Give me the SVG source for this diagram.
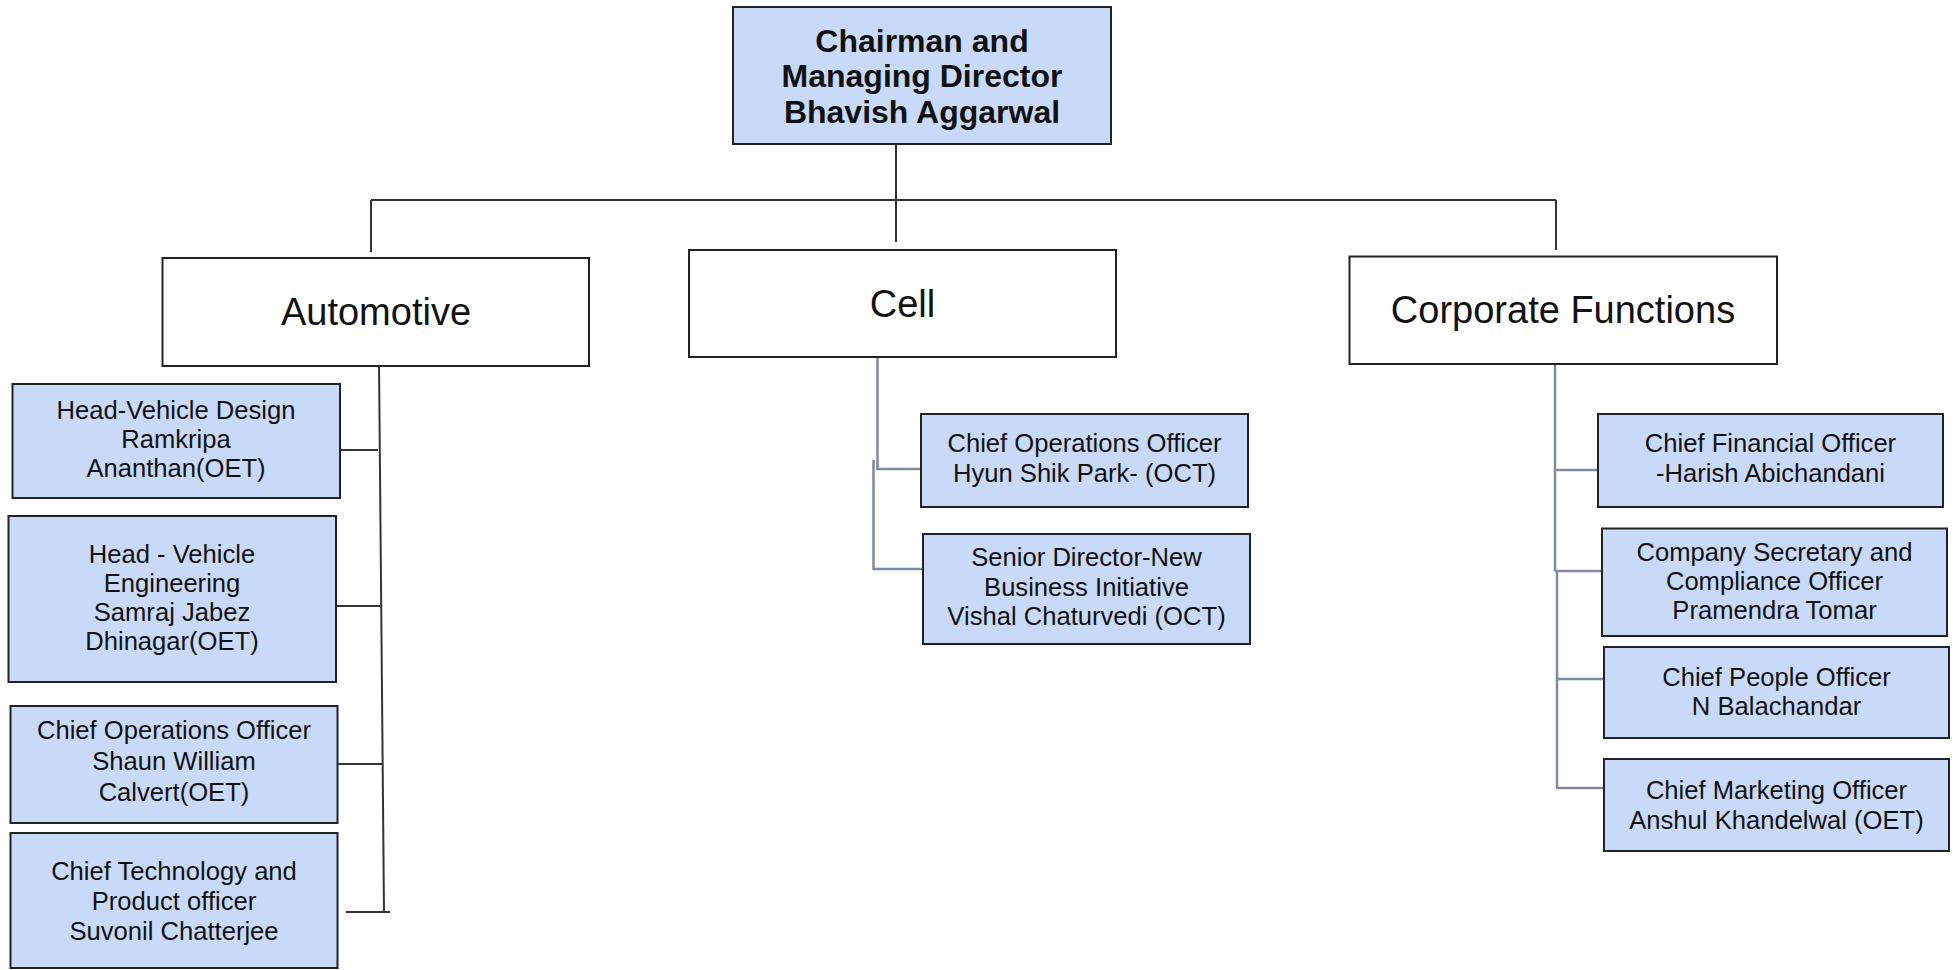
<svg xmlns="http://www.w3.org/2000/svg" width="1953" height="970" viewBox="0 0 1953 970">
<style>
.box{fill:#c9daf8;stroke:#222;stroke-width:2}
.cat{fill:#fff;stroke:#222;stroke-width:2}
.t{font-family:"Liberation Sans",Arial,sans-serif;font-size:25.6px;fill:#111;text-anchor:middle}
.tc{font-family:"Liberation Sans",Arial,sans-serif;font-size:38px;fill:#111;text-anchor:middle}
.tb{font-family:"Liberation Sans",Arial,sans-serif;font-size:32px;font-weight:bold;fill:#111;text-anchor:middle}
.k{stroke:#333;stroke-width:2;fill:none}
.g{stroke:#7d8aa0;stroke-width:2.5;fill:none}
</style>
<rect width="1953" height="970" fill="#fff"/>
<g id="connectors">
<path class="k" d="M896 144V242M371 200H1556M371 200V252M1556 200V250"/>
<path class="k" d="M379 362L384 912M340 450H378M336 606H381M337 764H383M346 912H390"/>
<path class="g" d="M877.5 357V469H921M873.5 460V569H923"/>
<path class="g" d="M1555 364V571M1557 571V788M1555 470H1598M1555 571H1602M1557 679H1604M1556 788H1604"/>
</g>
<g id="chairman">
<rect class="box" x="733" y="7" width="378" height="137"/>
<text class="tb" x="922" y="51.5">Chairman and</text>
<text class="tb" x="922" y="87">Managing Director</text>
<text class="tb" x="922" y="122.5">Bhavish Aggarwal</text>
</g>
<g id="automotive">
<rect class="cat" x="162.5" y="258" width="426.5" height="108"/>
<text class="tc" x="376" y="325">Automotive</text>
</g>
<g id="cell">
<rect class="cat" x="689" y="250" width="427" height="107"/>
<text class="tc" x="902.5" y="317">Cell</text>
</g>
<g id="corporate">
<rect class="cat" x="1349.5" y="256.5" width="427.5" height="107.5"/>
<text class="tc" x="1563" y="323">Corporate Functions</text>
</g>
<g id="head-vehicle-design">
<rect class="box" x="12.5" y="384" width="327.5" height="114"/>
<text class="t" x="176" y="419">Head-Vehicle Design</text>
<text class="t" x="176" y="448">Ramkripa</text>
<text class="t" x="176" y="477">Ananthan(OET)</text>
</g>
<g id="head-vehicle-engineering">
<rect class="box" x="8.5" y="516" width="327.5" height="166"/>
<text class="t" x="172" y="563">Head - Vehicle</text>
<text class="t" x="172" y="592">Engineering</text>
<text class="t" x="172" y="621">Samraj Jabez</text>
<text class="t" x="172" y="650">Dhinagar(OET)</text>
</g>
<g id="coo-automotive">
<rect class="box" x="10.5" y="706" width="327" height="117"/>
<text class="t" x="174" y="739">Chief Operations Officer</text>
<text class="t" x="174" y="770">Shaun William</text>
<text class="t" x="174" y="801">Calvert(OET)</text>
</g>
<g id="cto">
<rect class="box" x="10.5" y="833" width="327" height="135"/>
<text class="t" x="174" y="880">Chief Technology and</text>
<text class="t" x="174" y="910">Product officer</text>
<text class="t" x="174" y="940">Suvonil Chatterjee</text>
</g>
<g id="coo-cell">
<rect class="box" x="921" y="414" width="327" height="93"/>
<text class="t" x="1084.5" y="452">Chief Operations Officer</text>
<text class="t" x="1084.5" y="482">Hyun Shik Park- (OCT)</text>
</g>
<g id="senior-director">
<rect class="box" x="923" y="534" width="327" height="110"/>
<text class="t" x="1086.5" y="566">Senior Director-New</text>
<text class="t" x="1086.5" y="596">Business Initiative</text>
<text class="t" x="1086.5" y="625">Vishal Chaturvedi (OCT)</text>
</g>
<g id="cfo">
<rect class="box" x="1598" y="414" width="345" height="93"/>
<text class="t" x="1770.5" y="452">Chief Financial Officer</text>
<text class="t" x="1770.5" y="482">-Harish Abichandani</text>
</g>
<g id="company-secretary">
<rect class="box" x="1602" y="528.5" width="345" height="107.5"/>
<text class="t" x="1774.5" y="561">Company Secretary and</text>
<text class="t" x="1774.5" y="590">Compliance Officer</text>
<text class="t" x="1774.5" y="619">Pramendra Tomar</text>
</g>
<g id="cpo">
<rect class="box" x="1604" y="647" width="345" height="91"/>
<text class="t" x="1776.5" y="686">Chief People Officer</text>
<text class="t" x="1776.5" y="715">N Balachandar</text>
</g>
<g id="cmo">
<rect class="box" x="1604" y="759" width="345" height="92"/>
<text class="t" x="1776.5" y="799">Chief Marketing Officer</text>
<text class="t" x="1776.5" y="829">Anshul Khandelwal (OET)</text>
</g>
</svg>
